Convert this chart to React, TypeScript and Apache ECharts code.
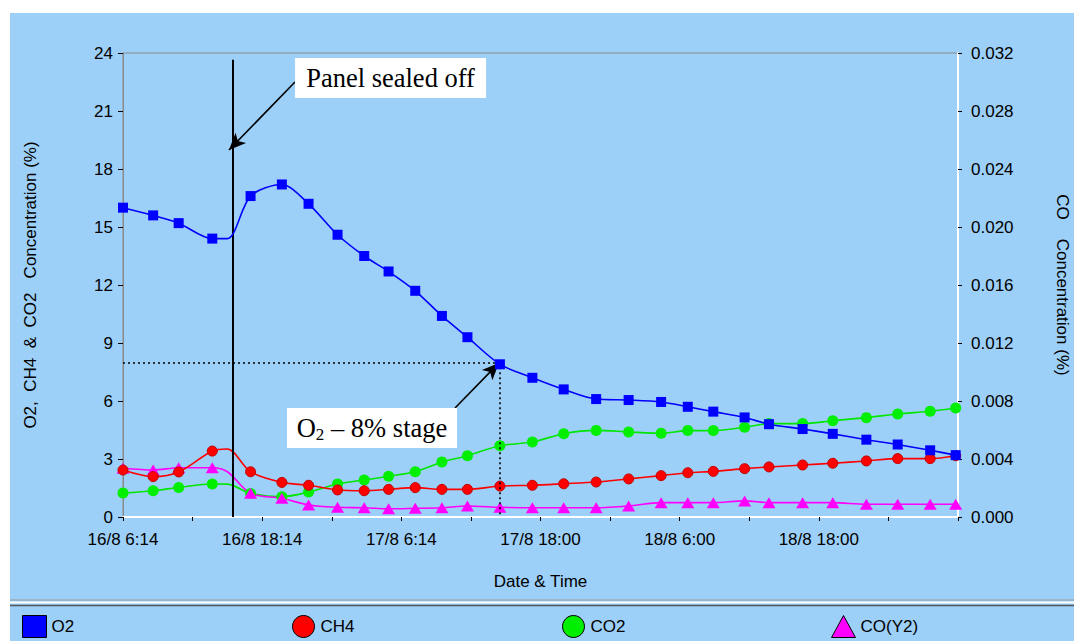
import React, { useEffect, useRef } from "react";
import * as echarts from "echarts";

// Elapsed hours since 16/8 6:14
const hours = [0, 2.6, 4.8, 7.7, 9.0, 11.0, 13.7, 16.0, 18.5, 20.8, 22.9, 25.2, 27.5, 29.7, 32.5, 35.3, 38.0, 40.8, 43.6, 46.4, 48.7, 50.9, 53.6, 55.7, 58.6, 61.2, 64.1, 66.8, 69.6, 71.8];
const o2 = [16.0, 15.6, 15.2, 14.4, 14.4, 16.6, 17.2, 16.2, 14.6, 13.5, 12.7, 11.7, 10.4, 9.3, 7.9, 7.2, 6.6, 6.1, 6.05, 5.95, 5.7, 5.45, 5.15, 4.8, 4.55, 4.3, 4.0, 3.75, 3.45, 3.2];
const ch4 = [2.43, 2.09, 2.33, 3.41, 3.52, 2.34, 1.79, 1.64, 1.4, 1.36, 1.43, 1.52, 1.43, 1.43, 1.6, 1.64, 1.72, 1.81, 1.97, 2.14, 2.29, 2.36, 2.5, 2.59, 2.69, 2.78, 2.9, 3.02, 3.02, 3.17];
const co2 = [1.24, 1.36, 1.53, 1.71, 1.7, 1.22, 1.05, 1.29, 1.71, 1.91, 2.11, 2.34, 2.84, 3.17, 3.69, 3.88, 4.31, 4.48, 4.4, 4.33, 4.47, 4.47, 4.64, 4.83, 4.83, 4.98, 5.14, 5.33, 5.47, 5.64];
const co = [0.00336, 0.00324, 0.0034, 0.0034, 0.00312, 0.00163, 0.00129, 0.00083, 0.00067, 0.00064, 0.00057, 0.0006, 0.00064, 0.00076, 0.00067, 0.00064, 0.00064, 0.00064, 0.00076, 0.00099, 0.00099, 0.00099, 0.00111, 0.00099, 0.00099, 0.00099, 0.00088, 0.00088, 0.00088, 0.00088];
const unmarkedIndex = 4;

const xTickLabels = ["16/8 6:14", "16/8 18:14", "17/8 6:14", "17/8 18:00", "18/8 6:00", "18/8 18:00"];
const seriesNames = ["O2", "CH4", "CO2", "CO(Y2)"];

// Annotations (data coordinates: hours, left-axis %)
const sealedAt = 9.5;
const sealedTop = 23.65;
const stageTime = 32.5;
const stageO2 = 8.0;
const sealArrow = [[14.83, 22.5], [9.14, 18.98]];
const stageArrow = [[28.63, 5.64], [32.42, 7.97]];
const sealBox = { center: [23.07, 22.71], w: 191, h: 40, text: "Panel sealed off" };
const stageBox = { center: [21.47, 4.6], w: 170, h: 40 };

const SANS = "'Liberation Sans', Arial, sans-serif";
const SERIF = "'Liberation Serif', 'Times New Roman', serif";

function pts(values: number[]) {
  return hours.map((h, i) =>
    i === unmarkedIndex ? { value: [h, values[i]], symbol: "none" } : [h, values[i]]
  );
}

export default function App() {
  const ref = useRef<HTMLDivElement>(null);

  useEffect(() => {
    document.body.style.margin = "0";
    const chart = echarts.init(ref.current!, null, { renderer: "svg" });

    const blk = { color: "#000" };
    const arrowLine = (a: number[][]) => [
      { coord: a[0], symbol: "none", lineStyle: { color: "#000", width: 1.6, type: "solid" } },
      { coord: a[1], symbol: "arrow", symbolSize: [11, 17] },
    ];

    const legendBase = {
      top: 610,
      itemWidth: 24,
      itemHeight: 22,
      selectedMode: false,
      itemStyle: { borderColor: "#000", borderWidth: 1 },
      textStyle: { fontSize: 17, color: "#000", fontFamily: SANS },
    };

    const option: any = {
      animation: false,
      backgroundColor: "#9dd0f8",
      textStyle: { fontFamily: SANS },
      grid: {
        left: 123,
        right: 116,
        top: 53,
        bottom: 124,
        outerBoundsMode: "none",
        containLabel: false,
        show: true,
        borderColor: "#8a8a8a",
        borderWidth: 1,
        backgroundColor: "transparent",
      },
      legend: [
        { ...legendBase, left: 17, data: [{ name: "O2", icon: "rect" }] },
        { ...legendBase, left: 287, data: [{ name: "CH4", icon: "circle" }] },
        { ...legendBase, left: 557, data: [{ name: "CO2", icon: "circle" }] },
        { ...legendBase, left: 826, data: [{ name: "CO(Y2)", icon: "triangle" }] },
      ],
      xAxis: {
        type: "value",
        min: 0,
        max: 72,
        interval: 6,
        name: "Date & Time",
        nameLocation: "middle",
        nameGap: 56,
        nameTextStyle: { fontSize: 17, color: "#000", fontFamily: SANS },
        axisLine: { show: true, lineStyle: { color: "#ffffff", width: 2 } },
        axisTick: { show: true, length: 4, lineStyle: blk },
        axisLabel: {
          margin: 14,
          fontSize: 17,
          color: "#000",
          fontFamily: SANS,
          formatter: (v: number) => {
            const i = v / 12;
            return Number.isInteger(i) && i < xTickLabels.length ? xTickLabels[i] : "";
          },
        },
        splitLine: { show: false },
      },
      yAxis: [
        {
          type: "value",
          min: 0,
          max: 24,
          interval: 3,
          position: "left",
          name: "O2,  CH4  &  CO2   Concentration (%)",
          nameLocation: "middle",
          nameGap: 84,
          nameTextStyle: { fontSize: 17, color: "#000", fontFamily: SANS },
          axisLine: { show: true, lineStyle: { color: "#8a8a8a", width: 1 } },
          axisTick: { show: true, length: 5, lineStyle: blk },
          axisLabel: { margin: 10, fontSize: 17, color: "#000", fontFamily: SANS },
          splitLine: { show: false },
        },
        {
          type: "value",
          min: 0,
          max: 0.032,
          interval: 0.004,
          position: "right",
          name: "CO    Concentration (%)",
          nameLocation: "middle",
          nameRotate: -90,
          nameGap: 96,
          nameTextStyle: { fontSize: 17, color: "#000", fontFamily: SANS },
          axisLine: { show: true, lineStyle: { color: "#ffffff", width: 2 } },
          axisTick: { show: true, length: 4, lineStyle: blk },
          axisLabel: {
            margin: 13,
            fontSize: 17,
            color: "#000",
            fontFamily: SANS,
            formatter: (v: number) => v.toFixed(3),
          },
          splitLine: { show: false },
        },
      ],
      series: [
        {
          name: seriesNames[0],
          type: "line",
          yAxisIndex: 0,
          data: pts(o2),
          smooth: 0.3,
          symbol: "rect",
          symbolSize: 10,
          itemStyle: { color: "#0000ff" },
          lineStyle: { color: "#0000ff", width: 1.6 },
          z: 5,
          markLine: {
            silent: true,
            animation: false,
            label: { show: false },
            symbol: ["none", "none"],
            emphasis: { disabled: true },
            data: [
              [
                { coord: [sealedAt, 0], lineStyle: { color: "#000", width: 2, type: "solid" } },
                { coord: [sealedAt, sealedTop] },
              ],
              [
                { coord: [0, stageO2], lineStyle: { color: "#000", width: 1.6, type: [2, 3] } },
                { coord: [stageTime, stageO2] },
              ],
              [
                { coord: [stageTime, stageO2], lineStyle: { color: "#000", width: 1.6, type: [2, 3] } },
                { coord: [stageTime, 0] },
              ],
              arrowLine(sealArrow),
              arrowLine(stageArrow),
            ],
          },
        },
        {
          name: seriesNames[1],
          type: "line",
          yAxisIndex: 0,
          data: pts(ch4),
          smooth: 0.3,
          symbol: "circle",
          symbolSize: 10,
          itemStyle: { color: "#ff0000", borderColor: "#c00000", borderWidth: 1 },
          lineStyle: { color: "#ff0000", width: 1.6 },
          z: 4,
        },
        {
          name: seriesNames[2],
          type: "line",
          yAxisIndex: 0,
          data: pts(co2),
          smooth: 0.3,
          symbol: "circle",
          symbolSize: 11,
          itemStyle: { color: "#00ee00" },
          lineStyle: { color: "#00e600", width: 1.6 },
          z: 3,
        },
        {
          name: seriesNames[3],
          type: "line",
          yAxisIndex: 1,
          data: pts(co),
          smooth: 0.3,
          symbol: "triangle",
          symbolSize: [13, 11],
          itemStyle: { color: "#ff00ff" },
          lineStyle: { color: "#ff00ff", width: 1.6 },
          z: 3,
        },
      ],
    };

    chart.setOption(option);

    const px = (c: number[]) => chart.convertToPixel({ xAxisIndex: 0, yAxisIndex: 0 }, c) as number[];
    const s1 = px(sealBox.center);
    const s2 = px(stageBox.center);

    chart.setOption({
      graphic: [
        { type: "rect", shape: { x: 0, y: 0, width: 1074, height: 13 }, style: { fill: "#ffffff" }, silent: true },
        { type: "rect", shape: { x: 0, y: 0, width: 10, height: 641 }, style: { fill: "#ffffff" }, silent: true },
        { type: "line", shape: { x1: 10, y1: 600, x2: 1074, y2: 600 }, style: { stroke: "#9a9a9a", lineWidth: 1 }, silent: true },
        { type: "line", shape: { x1: 10, y1: 602.5, x2: 1074, y2: 602.5 }, style: { stroke: "#ffffff", lineWidth: 2 }, silent: true },
        { type: "line", shape: { x1: 10, y1: 605.5, x2: 1074, y2: 605.5 }, style: { stroke: "#555555", lineWidth: 1.5 }, silent: true },
        {
          type: "rect",
          z: 100,
          shape: { x: s1[0] - sealBox.w / 2, y: s1[1] - sealBox.h / 2, width: sealBox.w, height: sealBox.h },
          style: { fill: "#ffffff" },
          silent: true,
        },
        {
          type: "text",
          z: 101,
          x: s1[0],
          y: s1[1],
          style: {
            text: sealBox.text,
            align: "center",
            verticalAlign: "middle",
            fontSize: 26.5,
            fontFamily: SERIF,
            fill: "#000",
          },
          silent: true,
        },
        {
          type: "rect",
          z: 100,
          shape: { x: s2[0] - stageBox.w / 2, y: s2[1] - stageBox.h / 2, width: stageBox.w, height: stageBox.h },
          style: { fill: "#ffffff" },
          silent: true,
        },
        {
          type: "text",
          z: 101,
          x: s2[0],
          y: s2[1],
          style: {
            text: "{a|O}{b|2}{a| – 8% stage}",
            align: "center",
            verticalAlign: "middle",
            fill: "#000",
            rich: {
              a: { fontSize: 26.5, fontFamily: SERIF, lineHeight: 30, fill: "#000" },
              b: { fontSize: 17, fontFamily: SERIF, lineHeight: 16, verticalAlign: "bottom", fill: "#000" },
            },
          },
          silent: true,
        },
      ],
    });

    return () => chart.dispose();
  }, []);

  return <div ref={ref} style={{ width: 1074, height: 641 }} />;
}
